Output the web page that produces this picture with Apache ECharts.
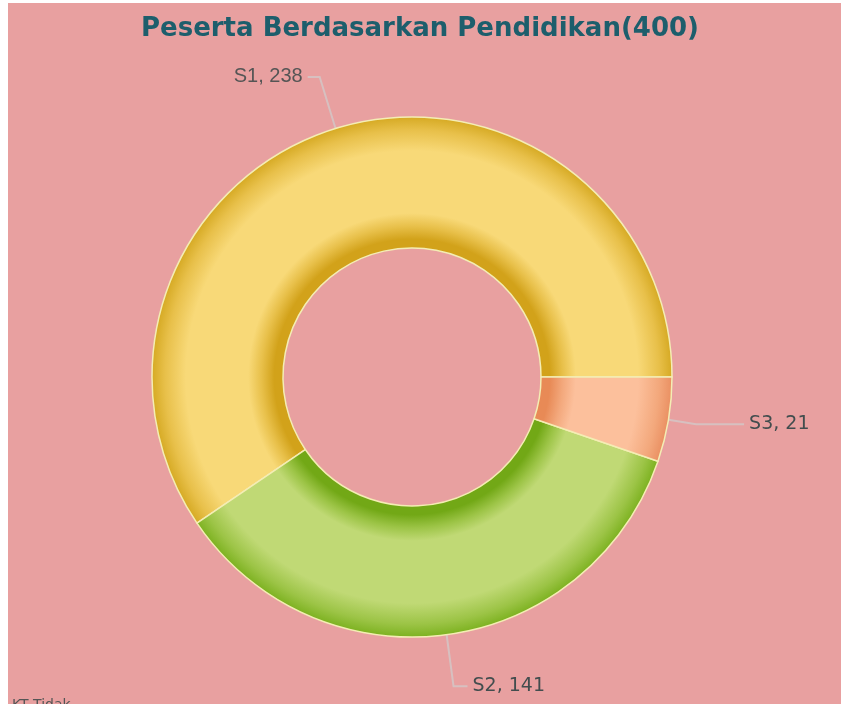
<!DOCTYPE html>
<html>
<head>
<meta charset="utf-8">
<script src="https://cdn.jsdelivr.net/npm/echarts@6/dist/echarts.min.js"></script>
<style>
  html, body { margin: 0; padding: 0; background: #ffffff; }
  #chart { position: absolute; left: 8px; top: 3px; width: 833px; height: 701px; }
</style>
</head>
<body>
<div id="chart"></div>
<script>
const categories = ['S1', 'S2', 'S3'];
const values = [238, 141, 21];
const total = 400;

document.addEventListener('DOMContentLoaded', () => {
  const chart = echarts.init(document.getElementById('chart'));

  const cx = 404, cy = 374, outerR = 260, innerR = 129;

  // ring shading: dark at both edges, light band in the middle
  function ring(dark, mid, light, edge) {
    return {
      type: 'radial', x: cx, y: cy, r: outerR, global: true,
      colorStops: [
        { offset: 0.49, color: dark },
        { offset: 0.53, color: dark },
        { offset: 0.58, color: mid },
        { offset: 0.63, color: light },
        { offset: 0.87, color: light },
        { offset: 0.95, color: mid },
        { offset: 1, color: edge }
      ]
    };
  }

  const fills = [
    ring('#D2A21A', '#E8C04A', '#F8D978', '#D6AA24'),
    ring('#72A816', '#9CC446', '#C0D975', '#7DB221'),
    ring('#E88A56', '#F3A87C', '#FCC09C', '#EA9062')
  ];

  const lines = [
    { length: 54, length2: 12 },
    { length: 52, length2: 14 },
    { length: 28, length2: 48 }
  ];

  const labelFonts = [
    { fontFamily: 'Liberation Sans', fontSize: 20, color: '#555555' },
    { fontFamily: 'DejaVu Sans', fontSize: 19, color: '#424d4e' },
    { fontFamily: 'DejaVu Sans', fontSize: 19, color: '#424d4e' }
  ];

  const option = {
    backgroundColor: '#E8A0A0',
    title: {
      text: 'Peserta Berdasarkan Pendidikan(' + total + ')',
      left: 128,
      top: 8,
      textStyle: { fontFamily: 'DejaVu Sans', fontSize: 26, fontWeight: 'bold', color: '#1D5E6C' }
    },
    graphic: [{
      type: 'text',
      left: 4,
      top: 695,
      style: { text: 'KT Tidak', font: '14px "DejaVu Sans"', fill: '#555555' }
    }],
    series: [{
      type: 'pie',
      center: [cx, cy],
      radius: [innerR, outerR],
      startAngle: 0,
      clockwise: false,
      avoidLabelOverlap: false,
      animation: false,
      itemStyle: { borderColor: '#F4EDB4', borderWidth: 1.5 },
      label: { show: true, position: 'outside', formatter: '{b}, {c}' },
      labelLine: { show: true, lineStyle: { color: 'rgba(210,200,200,0.8)', width: 2 } },
      emphasis: { scale: false },
      data: categories.map((name, i) => ({
        name,
        value: values[i],
        itemStyle: { color: fills[i] },
        label: labelFonts[i],
        labelLine: lines[i]
      }))
    }]
  };

  chart.setOption(option);
  window.addEventListener('resize', () => chart.resize());
});
</script>
</body>
</html>
